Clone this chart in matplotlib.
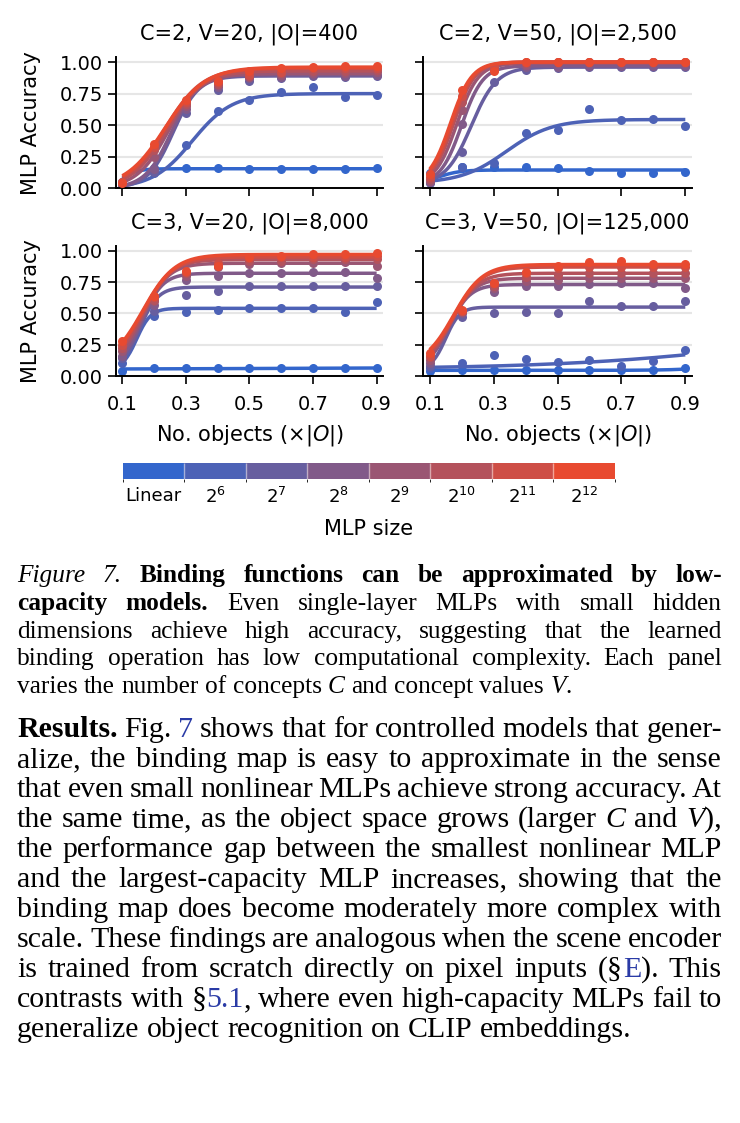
import numpy as np
import matplotlib
matplotlib.use('Agg')
import matplotlib.pyplot as plt
from matplotlib.colors import ListedColormap, BoundaryNorm
from matplotlib.cm import ScalarMappable

# Размер страницы в пикселях (dpi = 100)
W, H = 740, 1123

# Доля объектов по оси X
x_frac = [0.1, 0.2, 0.3, 0.4, 0.5, 0.6, 0.7, 0.8, 0.9]

# Размеры MLP (подписи шкалы цвета)
mlp_sizes = ['Linear', '$2^{6}$', '$2^{7}$', '$2^{8}$', '$2^{9}$',
             '$2^{10}$', '$2^{11}$', '$2^{12}$']

panel_titles = ['C=2, V=20, |O|=400', 'C=2, V=50, |O|=2,500',
                'C=3, V=20, |O|=8,000', 'C=3, V=50, |O|=125,000']

# Точность MLP: строки = размеры MLP (Linear ... 2^12), столбцы = x_frac
acc_c2_v20 = [
    [0.05, 0.16, 0.16, 0.16, 0.155, 0.155, 0.15, 0.15, 0.16],
    [0.03, 0.12, 0.34, 0.61, 0.70, 0.76, 0.80, 0.72, 0.74],
    [0.03, 0.13, 0.60, 0.78, 0.85, 0.87, 0.89, 0.88, 0.89],
    [0.03, 0.15, 0.63, 0.80, 0.87, 0.88, 0.90, 0.89, 0.90],
    [0.04, 0.25, 0.65, 0.82, 0.88, 0.90, 0.91, 0.91, 0.92],
    [0.05, 0.30, 0.67, 0.83, 0.89, 0.91, 0.93, 0.93, 0.94],
    [0.05, 0.33, 0.68, 0.84, 0.90, 0.92, 0.95, 0.95, 0.95],
    [0.04, 0.35, 0.70, 0.85, 0.93, 0.95, 0.96, 0.97, 0.97],
]
acc_c2_v50 = [
    [0.12, 0.17, 0.17, 0.17, 0.16, 0.14, 0.12, 0.12, 0.13],
    [0.05, 0.17, 0.20, 0.44, 0.46, 0.63, 0.54, 0.55, 0.49],
    [0.04, 0.29, 0.84, 0.94, 0.95, 0.96, 0.96, 0.96, 0.96],
    [0.05, 0.51, 0.94, 0.96, 0.96, 0.97, 0.97, 0.97, 0.97],
    [0.06, 0.62, 0.95, 0.98, 0.99, 0.99, 0.99, 0.99, 0.99],
    [0.07, 0.68, 0.96, 0.99, 1.00, 1.00, 1.00, 1.00, 1.00],
    [0.09, 0.73, 0.96, 1.00, 1.00, 1.00, 1.00, 1.00, 1.00],
    [0.11, 0.78, 0.93, 1.00, 1.00, 1.00, 1.00, 1.00, 1.00],
]
acc_c3_v20 = [
    [0.04, 0.06, 0.06, 0.06, 0.06, 0.06, 0.06, 0.06, 0.065],
    [0.10, 0.48, 0.51, 0.53, 0.54, 0.54, 0.545, 0.51, 0.59],
    [0.14, 0.52, 0.65, 0.68, 0.72, 0.72, 0.72, 0.72, 0.72],
    [0.16, 0.57, 0.77, 0.80, 0.82, 0.82, 0.83, 0.83, 0.78],
    [0.20, 0.60, 0.80, 0.87, 0.89, 0.90, 0.90, 0.91, 0.88],
    [0.22, 0.61, 0.82, 0.89, 0.92, 0.92, 0.93, 0.93, 0.93],
    [0.25, 0.63, 0.83, 0.90, 0.94, 0.95, 0.95, 0.95, 0.96],
    [0.28, 0.64, 0.84, 0.88, 0.95, 0.96, 0.97, 0.97, 0.98],
]
acc_c3_v50 = [
    [0.04, 0.045, 0.045, 0.045, 0.045, 0.045, 0.045, 0.045, 0.06],
    [0.06, 0.10, 0.17, 0.135, 0.11, 0.13, 0.08, 0.12, 0.21],
    [0.08, 0.47, 0.50, 0.51, 0.50, 0.595, 0.56, 0.56, 0.595],
    [0.10, 0.50, 0.67, 0.72, 0.72, 0.735, 0.74, 0.74, 0.70],
    [0.13, 0.51, 0.70, 0.76, 0.77, 0.78, 0.78, 0.78, 0.78],
    [0.15, 0.52, 0.72, 0.79, 0.81, 0.82, 0.82, 0.82, 0.82],
    [0.16, 0.52, 0.74, 0.82, 0.86, 0.87, 0.87, 0.87, 0.87],
    [0.18, 0.53, 0.74, 0.83, 0.88, 0.91, 0.92, 0.89, 0.89],
]

# Параметры сигмоид (низ, верх, середина, крутизна)
fit_c2_v20 = [(0.0, 0.155, 0.10, 40), (0.0, 0.75, 0.32, 16),
              (0.0, 0.89, 0.26, 25), (0.0, 0.90, 0.255, 24),
              (0.0, 0.91, 0.245, 20), (0.0, 0.93, 0.24, 18),
              (0.0, 0.95, 0.235, 17), (0.0, 0.96, 0.235, 16)]
fit_c2_v50 = [(0.04, 0.145, 0.13, 30), (0.04, 0.545, 0.34, 14),
              (0.03, 0.96, 0.23, 25), (0.03, 0.97, 0.20, 30),
              (0.03, 0.99, 0.185, 30), (0.03, 1.00, 0.175, 30),
              (0.03, 1.00, 0.17, 30), (0.03, 1.00, 0.165, 30)]
fit_c3_v20 = [(0.055, 0.065, 0.5, 5), (0.05, 0.54, 0.145, 45),
              (0.05, 0.71, 0.155, 35), (0.05, 0.82, 0.16, 30),
              (0.06, 0.90, 0.165, 25), (0.07, 0.93, 0.165, 23),
              (0.08, 0.95, 0.165, 21), (0.08, 0.97, 0.165, 20)]
fit_c3_v50 = [(0.045, 0.10, 1.0, 15), (0.055, 0.45, 1.2, 3),
              (0.05, 0.55, 0.15, 45), (0.05, 0.73, 0.16, 30),
              (0.06, 0.78, 0.165, 27), (0.07, 0.82, 0.17, 25),
              (0.08, 0.87, 0.175, 23), (0.08, 0.89, 0.175, 22)]

panel_acc = [acc_c2_v20, acc_c2_v50, acc_c3_v20, acc_c3_v50]
panel_fit = [fit_c2_v20, fit_c2_v50, fit_c3_v20, fit_c3_v50]

# Цвета: от синего (Linear) к красному (2^12)
colors = ['#3366CC', '#4D62B6', '#675E9F', '#815A89',
          '#9A5673', '#B4525C', '#CE4E46', '#E84A30']
LINK = '#2a3ba6'

# Текст подписи и абзаца (* курсив, # жирный, ~ ссылка)
caption_lines = [
    '*Figure 7.* #Binding functions can be approximated by low-#',
    '#capacity models.# Even single-layer MLPs with small hidden',
    'dimensions achieve high accuracy, suggesting that the learned',
    'binding operation has low computational complexity. Each panel',
    'varies the number of concepts *C* and concept values *V*.',
]
body_lines = [
    '#Results.# Fig. ~7~ shows that for controlled models that gener-',
    'alize, the binding map is easy to approximate in the sense',
    'that even small nonlinear MLPs achieve strong accuracy. At',
    'the same time, as the object space grows (larger *C* and *V*),',
    'the performance gap between the smallest nonlinear MLP',
    'and the largest-capacity MLP increases, showing that the',
    'binding map does become moderately more complex with',
    'scale. These findings are analogous when the scene encoder',
    'is trained from scratch directly on pixel inputs (§~E~). This',
    'contrasts with §~5.1~, where even high-capacity MLPs fail to',
    'generalize object recognition on CLIP embeddings.',
]


def sigmoid(x, lo, hi, mid, k):
    return lo + (hi - lo) / (1 + np.exp(-k * (x - mid)))


def px_axes(fig, left, top, right, bottom):
    return fig.add_axes([left / W, 1 - bottom / H,
                         (right - left) / W, (bottom - top) / H])


# Разбор строки на слова и куски с разным стилем
def parse_line(line):
    words, cur, seg = [], [], ''
    st = {'*': False, '#': False, '~': False}

    def flush():
        nonlocal seg
        if seg:
            cur.append((seg, st['*'], st['#'], st['~']))
        seg = ''

    for ch in line:
        if ch in st:
            flush()
            st[ch] = not st[ch]
        elif ch == ' ':
            flush()
            if cur:
                words.append(list(cur))
                cur.clear()
        else:
            seg += ch
    flush()
    if cur:
        words.append(list(cur))
    return words


# Выравнивание строк по ширине, как в статье
def draw_paragraph(fig, renderer, lines, baselines, size, x0=17, x1=722):
    space = 0.25 * size * 100 / 72
    for i, (line, yb) in enumerate(zip(lines, baselines)):
        placed, total = [], 0
        for word in parse_line(line):
            segs = []
            for s, it, bd, bl in word:
                t = fig.text(0, 1 - yb / H, s, fontsize=size,
                             family='Liberation Serif',
                             style='italic' if it else 'normal',
                             weight='bold' if bd else 'normal',
                             color=LINK if bl else 'black',
                             ha='left', va='baseline')
                w = t.get_window_extent(renderer).width
                segs.append((t, w))
                total += w
            placed.append(segs)
        if i < len(lines) - 1 and len(placed) > 1:
            gap = (x1 - x0 - total) / (len(placed) - 1)
        else:
            gap = space
        x = x0
        for segs in placed:
            for t, w in segs:
                t.set_x(x / W)
                x += w
            x += gap


def main():
    fig = plt.figure(figsize=(W / 100, H / 100), dpi=100)
    renderer = fig.canvas.get_renderer()

    rects = [(116, 57, 383, 188.3), (423.3, 57, 691.7, 188.3),
             (116, 245.7, 383, 376), (423.3, 245.7, 691.7, 376)]
    xs = np.linspace(0.1, 0.9, 200)

    for p in range(4):
        ax = px_axes(fig, *rects[p])
        for j in range(len(mlp_sizes)):
            ax.plot(xs, sigmoid(xs, *panel_fit[p][j]), color=colors[j],
                    lw=2.5, solid_capstyle='butt', zorder=2 + j * 0.1)
            ax.plot(x_frac, panel_acc[p][j], 'o', color=colors[j],
                    ms=6.5, mew=0, zorder=2 + j * 0.1)

        ax.set_xlim(0.08, 0.92)
        ax.set_ylim(0, 1.04)
        ax.set_xticks([0.1, 0.3, 0.5, 0.7, 0.9])
        ax.set_yticks([0, 0.25, 0.5, 0.75, 1.0])
        ax.yaxis.grid(True, color='#e6e6e6', lw=1.5)
        ax.set_axisbelow(True)
        for side in ['top', 'right']:
            ax.spines[side].set_visible(False)
        for side in ['left', 'bottom']:
            ax.spines[side].set_linewidth(1.4)
        ax.tick_params(direction='out', length=6, width=1.2, labelsize=14)
        ax.tick_params(axis='x', pad=8)
        ax.set_title(panel_titles[p], fontsize=15, pad=12.5)

        if p < 2:
            ax.tick_params(axis='x', labelbottom=False)
        else:
            ax.set_xticklabels(['0.1', '0.3', '0.5', '0.7', '0.9'])
            ax.set_xlabel(r'No. objects ($\times|O|$)', fontsize=15,
                          labelpad=6)
        if p % 2 == 1:
            ax.tick_params(axis='y', labelleft=False)
        else:
            ax.set_yticklabels(['0.00', '0.25', '0.50', '0.75', '1.00'])
            ax.set_ylabel('MLP Accuracy', fontsize=15)
            ax.yaxis.set_label_coords(-0.28, 0.5)

    # Шкала цвета с размерами MLP
    cax = px_axes(fig, 122.7, 463, 614.7, 479)
    cmap = ListedColormap(colors)
    norm = BoundaryNorm(np.arange(len(colors) + 1), len(colors))
    cb = fig.colorbar(ScalarMappable(norm=norm, cmap=cmap), cax=cax,
                      orientation='horizontal', drawedges=True)
    cb.outline.set_visible(False)
    cb.dividers.set_color('white')
    cb.dividers.set_alpha(0.5)
    cb.dividers.set_linewidth(1)
    cb.set_ticks(np.arange(len(colors)) + 0.5, labels=mlp_sizes)
    cax.tick_params(length=0, labelsize=13, pad=6)
    cb.set_label('MLP size', fontsize=15, labelpad=8)

    # Подпись к рисунку и абзац текста
    draw_paragraph(fig, renderer, caption_lines,
                   [582, 610, 638, 665, 693], 18.3)
    draw_paragraph(fig, renderer, body_lines,
                   [737 + 30 * i for i in range(len(body_lines))], 21.5)

    fig.savefig('out.png', dpi=100)


if __name__ == '__main__':
    main()
